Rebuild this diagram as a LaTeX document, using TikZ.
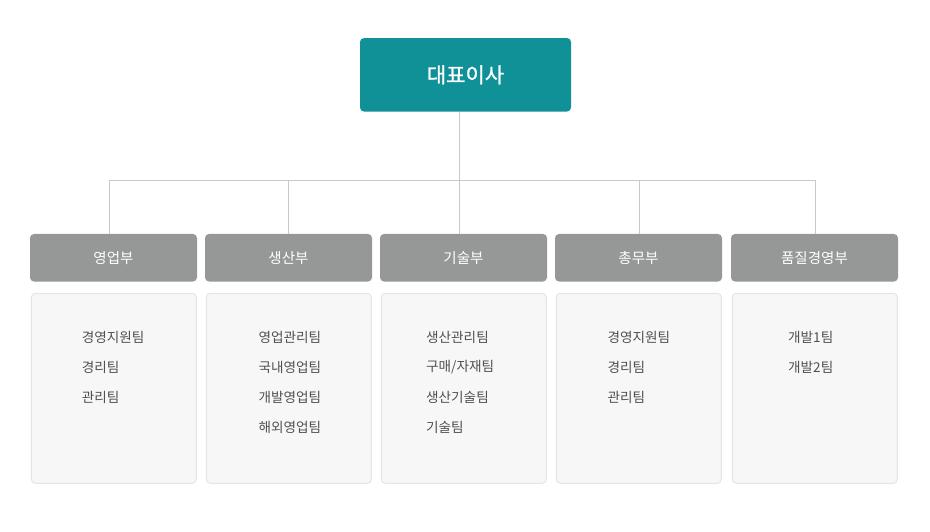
\documentclass[tikz,border=0pt]{standalone}
\usepackage{fontspec}
\newfontfamily\kr{Noto Sans CJK KR}
\newfontfamily\krmid[FakeBold=1.2]{Noto Sans CJK KR}
\usetikzlibrary{calc}
\definecolor{ceoteal}{HTML}{0F9197}
\definecolor{deptgray}{HTML}{969797}
\definecolor{listfill}{HTML}{F7F7F7}
\definecolor{listdraw}{HTML}{E5E5E5}
\definecolor{linegray}{HTML}{C8C8C8}
\definecolor{teamgray}{HTML}{505050}
\tikzstyle{ceobox}=[fill=ceoteal,rounded corners=4pt,minimum width=211pt,minimum height=73.5pt,inner sep=0pt,text=white,font=\krmid\fontsize{21}{21}\selectfont]
\tikzstyle{deptbox}=[fill=deptgray,rounded corners=4pt,minimum width=167pt,minimum height=47.5pt,inner sep=0pt,text=white,font=\kr\fontsize{14.5}{14.5}\selectfont]
\tikzstyle{teambox}=[fill=listfill,draw=listdraw,line width=1pt,rounded corners=4pt,minimum width=165pt,minimum height=190pt,inner sep=0pt]
\tikzstyle{teamtext}=[anchor=west,inner sep=0pt,text=teamgray,font=\kr\fontsize{13.6}{13.6}\selectfont]
\tikzstyle{orgline}=[draw=linegray,line width=1pt]
\newcommand{\drawdept}[6]{

\node[deptbox] (#2) at (#3,257.75) {#1};
\node[teambox] (#2list) at (#3+0.3,388.3) {};
\coordinate (#2drop) at (#4,180.3);
\draw[orgline] (#2drop) -- (#2drop |- #2.north);
    \foreach \t [count=\i] in {#6} {
      \node[teamtext] (#2team\i) at (#5,307+30*\i) {\t};
    }

}

\begin{document}
\begin{tikzpicture}[x=1pt,y=-1pt]
	\useasboundingbox (0,0) rectangle (930,532);
	\node[ceobox] (ceo) at (465.5,74.8) {대표이사};
	\coordinate (trunk) at (459.3,180.3);
	\draw[orgline] (ceo.south -| trunk) -- (trunk);
	\drawdept{영업부}{sales}{113.5}{109.3}{81.7}{경영지원팀,경리팀,관리팀}
	\drawdept{생산부}{prod}{288.5}{288.7}{258.3}{영업관리팀,국내영업팀,개발영업팀,해외영업팀}
	\drawdept{기술부}{tech}{463.5}{459.3}{426}{생산관리팀,구매/자재팀,생산기술팀,기술팀}
	\drawdept{총무부}{admin}{638.5}{639.3}{607.3}{경영지원팀,경리팀,관리팀}
	\drawdept{품질경영부}{quality}{814.5}{815.3}{788}{개발1팀,개발2팀}
	\draw[orgline] (salesdrop) -- (qualitydrop);
\end{tikzpicture}
\end{document}
